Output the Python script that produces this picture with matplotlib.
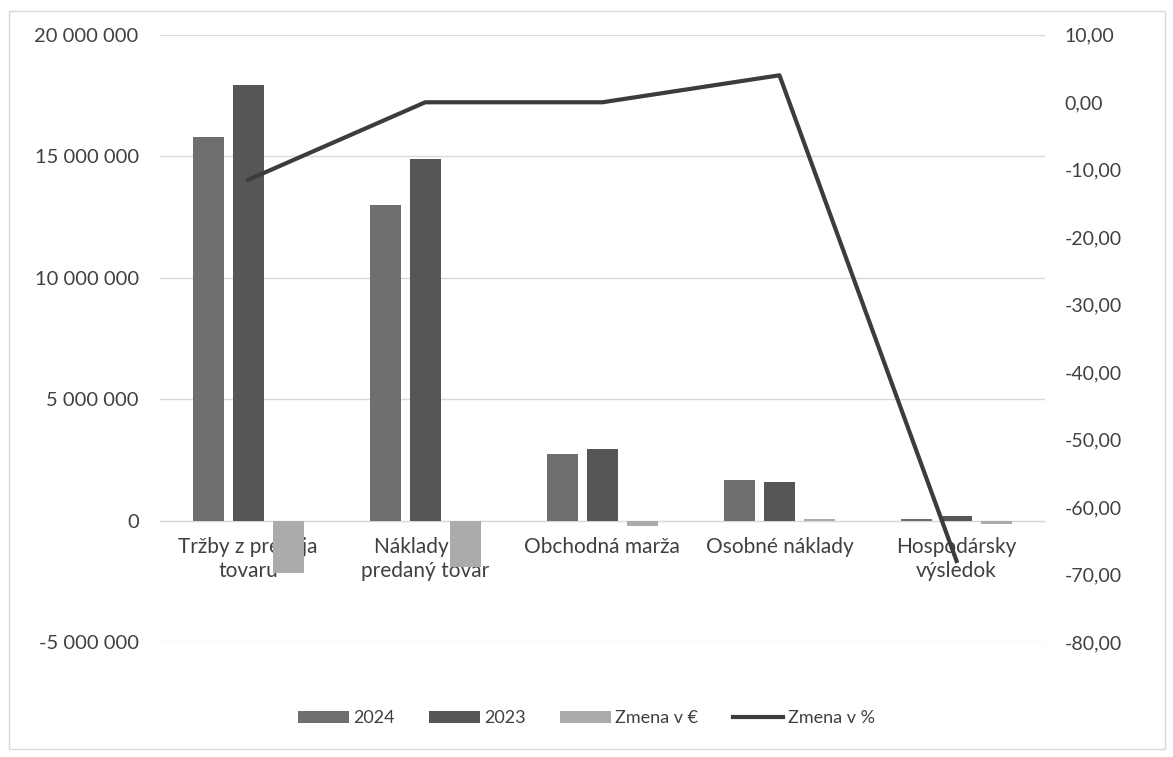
import matplotlib
matplotlib.use("Agg")
import matplotlib.pyplot as plt
import numpy as np
from matplotlib.ticker import FuncFormatter

plt.rcParams['font.family'] = ['Lato', 'DejaVu Sans']

categories = ["Tržby z predaja\ntovaru", "Náklady na\npredaný tovar", "Obchodná marža",
              "Osobné náklady", "Hospodársky\nvýsledok"]
v2024 = [15800000, 12980000, 2730000, 1650000, 64000]
v2023 = [17930000, 14880000, 2960000, 1580000, 200000]
zmena_eur = [-2150000, -1900000, -230000, 70000, -136000]
zmena_pct = [-11.5, 0.0, 0.0, 4.0, -68.0]

c2024 = "#6f6f6f"
c2023 = "#565656"
czm = "#ababab"
cline = "#3c3c3c"

fig = plt.figure(figsize=(11.73, 7.57), dpi=100)
ax = fig.add_axes([0.136, 0.152, 0.755, 0.802])
x = np.arange(len(categories))
w = 0.175
off = 0.226
ax.bar(x - off, v2024, w, color=c2024, label="2024", zorder=3)
ax.bar(x, v2023, w, color=c2023, label="2023", zorder=3)
ax.bar(x + off, zmena_eur, w, color=czm, label="Zmena v €", zorder=3)
ax.set_xlim(-0.5, len(categories) - 0.5)
ax.set_ylim(-5000000, 20000000)
ax.set_yticks(np.arange(-5000000, 20000001, 5000000))
ax.yaxis.set_major_formatter(FuncFormatter(lambda v, p: f"{int(v):,}".replace(",", " ")))
ax.grid(axis='y', color="#d9d9d9", linewidth=1, zorder=0)
for s in ['top', 'right', 'left']:
    ax.spines[s].set_visible(False)
ax.spines['bottom'].set_position(('data', 0))
ax.spines['bottom'].set_color("#d9d9d9")
ax.spines['bottom'].set_zorder(2)
ax.set_xticks(x)
ax.set_xticklabels(categories, fontsize=15, color="#404040", linespacing=1.25)
ax.tick_params(axis='x', length=0, pad=12)
ax.tick_params(axis='y', length=0, labelsize=14.5, labelcolor="#404040", pad=15)

ax2 = ax.twinx()
ax2.plot(x, zmena_pct, color=cline, linewidth=3, label="Zmena v %", zorder=4)
ax2.set_ylim(-80, 10)
ax2.set_yticks(np.arange(-80, 11, 10))
ax2.yaxis.set_major_formatter(FuncFormatter(lambda v, p: f"{v:.2f}".replace(".", ",")))
ax2.tick_params(axis='y', length=0, labelsize=14, labelcolor="#404040", pad=14)
for s in ax2.spines.values():
    s.set_visible(False)

h1, l1 = ax.get_legend_handles_labels()
h2, l2 = ax2.get_legend_handles_labels()
fig.legend(h1 + h2, l1 + l2, loc='center', bbox_to_anchor=(0.5, 0.051), ncol=4,
           frameon=False, fontsize=13, handlelength=2.8, handleheight=0.65,
           columnspacing=1.9, handletextpad=0.25, labelcolor="#404040")

fig.patches.append(plt.Rectangle((0.008, 0.01), 0.985, 0.975, transform=fig.transFigure,
                                 fill=False, edgecolor="#d9d9d9", linewidth=1))
fig.savefig("out.png", dpi=100)
